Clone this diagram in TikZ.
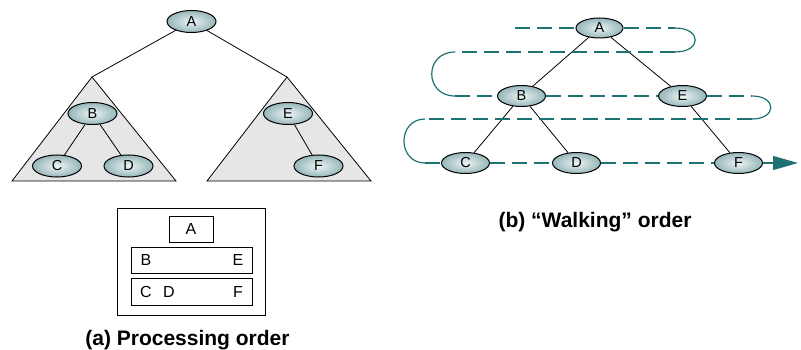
\documentclass[tikz,border=0pt]{standalone}
\usepackage{fontspec}
\setmainfont{Liberation Sans}
\usetikzlibrary{shapes.geometric,arrows.meta}
\definecolor{teal1}{HTML}{1F7272}
\definecolor{nodeout}{HTML}{95B6B9}
\definecolor{nodein}{HTML}{EEF4F4}
\definecolor{trifill}{HTML}{E6E6E6}
\tikzset{
  tnode/.style={ellipse, draw=black, line width=1pt, minimum width=49pt, minimum height=22pt,
    inner sep=0pt, inner color=nodein, outer color=nodeout, font=\fontsize{14.5}{16}\selectfont},
  wnode/.style={tnode, minimum width=48pt, minimum height=21pt},
  edge/.style={draw=black, line width=0.8pt},
  tri/.style={draw=black, line width=0.8pt, fill=trifill},
  boxr/.style={draw=black, line width=0.8pt, inner sep=0pt},
  boxtxt/.style={inner sep=0pt, font=\fontsize{16}{18}\selectfont},
  walk/.style={draw=teal1, line width=1.2pt, dash pattern=on 15pt off 7pt},
  walkc/.style={draw=teal1, line width=1.2pt},
  caption/.style={inner sep=0pt, font=\fontsize{21}{25}\selectfont\bfseries},
}
\begin{document}
\begin{tikzpicture}[x=1pt,y=-1pt]
\useasboundingbox (0,0) rectangle (801,350);
% ---------- (a) left tree ----------
\coordinate (lt) at (92,77);
\coordinate (lbl) at (12,181);
\coordinate (lbr) at (176,181);
\coordinate (rt) at (287,77);
\coordinate (rbl) at (207,181);
\coordinate (rbr) at (371,181);
\path[tri] (lt) -- (lbr) -- (lbl) -- cycle;
\path[tri] (rt) -- (rbr) -- (rbl) -- cycle;
\node[tnode] (A) at (191.5,21.5) {A};
\node[tnode] (B) at (92.5,113.5) {B};
\node[tnode] (C) at (57,166) {C};
\node[tnode] (D) at (128.5,166) {D};
\node[tnode] (E) at (288,113.5) {E};
\node[tnode] (F) at (318.5,166) {F};
\draw[edge] (A) -- (lt);
\draw[edge] (A) -- (rt);
\draw[edge] (B) -- (C);
\draw[edge] (B) -- (D);
\draw[edge] (E) -- (F);
% ---------- processing order box ----------
\node[boxr, minimum width=148pt, minimum height=107pt] (outer) at (191,261.5) {};
\node[boxr, minimum width=44pt, minimum height=26pt] (bA) at (191,229) {};
\node[boxr, minimum width=121pt, minimum height=26pt] (bBE) at (191.5,260) {};
\node[boxr, minimum width=121pt, minimum height=27pt] (bCDF) at (191.5,291.5) {};
\node[boxtxt] (tA) at (191,229) {A};
\node[boxtxt] (tB) at (146,260) {B};
\node[boxtxt] (tE) at (238,260) {E};
\node[boxtxt] (tC) at (146,291.5) {C};
\node[boxtxt] (tD) at (169,291.5) {D};
\node[boxtxt] (tF) at (238,291.5) {F};
\node[caption] (capa) at (187.5,340) {(a) Processing order};
% ---------- (b) right tree ----------
\node[wnode, minimum width=47pt, minimum height=20pt] (wA) at (599.5,28) {A};
\node[wnode] (wB) at (521.5,96) {B};
\node[wnode] (wE) at (682.5,96) {E};
\node[wnode] (wC) at (465.5,163) {C};
\node[wnode] (wD) at (576.5,163) {D};
\node[wnode] (wF) at (738.5,163) {F};
\draw[edge] (wA) -- (wB);
\draw[edge] (wA) -- (wE);
\draw[edge] (wB) -- (wC);
\draw[edge] (wB) -- (wD);
\draw[edge] (wE) -- (wF);
% walking path
\coordinate (s0) at (515,28);
\coordinate (r1a) at (675,28);
\coordinate (r1b) at (675,52);
\coordinate (l1a) at (455,52);
\coordinate (l1b) at (455,96);
\coordinate (r2a) at (752,96);
\coordinate (r2b) at (752,119);
\coordinate (l2a) at (425,119);
\coordinate (l2b) at (425,163);
\coordinate (tip) at (798,163);
\draw[walk] (s0) -- (wA.west);
\draw[walk] (wA.east) -- (r1a);
\draw[walkc] (r1a) .. controls (702,28) and (702,52) .. (r1b);
\draw[walk] (r1b) -- (l1a);
\draw[walkc] (l1a) .. controls (424,52) and (424,96) .. (l1b);
\draw[walk] (l1b) -- (wB.west);
\draw[walk] (wB.east) -- (wE.west);
\draw[walk] (wE.east) -- (r2a);
\draw[walkc] (r2a) .. controls (777,96) and (777,119) .. (r2b);
\draw[walk] (r2b) -- (l2a);
\draw[walkc] (l2a) .. controls (397,119) and (397,163) .. (l2b);
\draw[walk] (l2b) -- (wC.west);
\draw[walk] (wC.east) -- (wD.west);
\draw[walk] (wD.east) -- (wF.west);
\draw[walkc, -{Triangle[length=25pt,width=14pt]}] (wF.east) -- (tip);
\node[caption] (capb) at (595,222) {(b) “Walking” order};
\end{tikzpicture}
\end{document}
